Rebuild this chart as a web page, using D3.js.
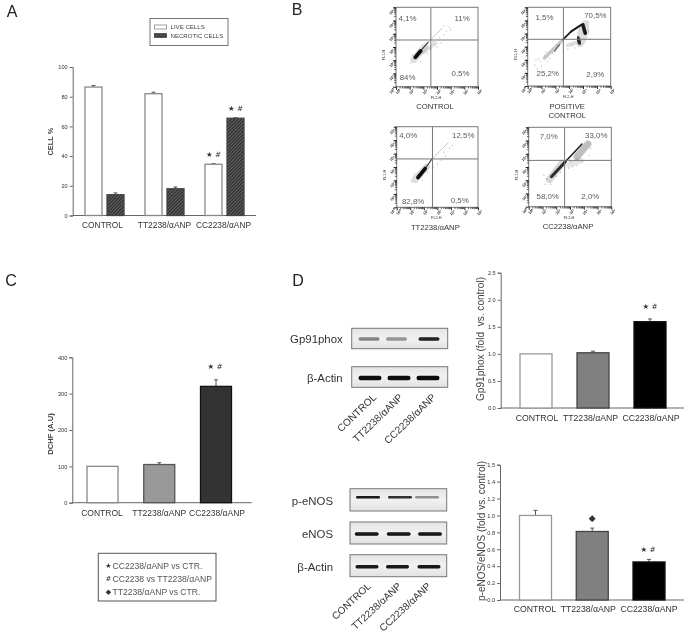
<!DOCTYPE html>
<html><head><meta charset="utf-8">
<style>
html,body{margin:0;padding:0;background:#fff}
svg{display:block;filter:blur(0.35px)}
text{font-family:"Liberation Sans",Arial,sans-serif}
</style>
<script src="https://cdn.jsdelivr.net/npm/d3@7/dist/d3.min.js"></script>
</head><body><script>
// ---------- data ----------
const categories = ["CONTROL", "TT2238/αANP", "CC2238/αANP"];
const seriesA = ["LIVE CELLS", "NECROTIC CELLS"];
const liveCells = [86.5, 82, 34.5];
const liveErr = [1, 1, 0.4];
const necroticCells = [14, 18, 65.5];
const necroticErr = [1.2, 1.2, 0.3];
const dchf = [100, 105, 320];
const dchfErr = [0, 5, 18];
const gp91 = [1.0, 1.02, 1.595];
const gp91Err = [0, 0.03, 0.05];
const peNos = [1.0, 0.81, 0.45];
const peNosErr = [0.06, 0.04, 0.03];
const ticksA = [0, 20, 40, 60, 80, 100];
const ticksC = [0, 100, 200, 300, 400];
const ticksGp = [0, 0.5, 1, 1.5, 2, 2.5];
const ticksPe = [0, 0.2, 0.4, 0.6, 0.8, 1, 1.2, 1.4, 1.6];
const tickLabelsPe = ["0.0", "0.2", "0.4", "0.6", "0.8", "1.0", "1.2", "1.4", "1.5"];
const legendNotes = [["★", "CC2238/αANP vs CTR."], ["#", "CC2238 vs TT2238/αANP"], ["◆", "TT2238/αANP vs CTR."]];
// western blot band intensity per lane
const blotGp91 = [0.45, 0.38, 0.9];
const blotActinTop = [1, 1, 1];
const blotPeNos = [0.95, 0.85, 0.4];
const blotENos = [0.95, 0.95, 0.95];
const blotActinBottom = [0.95, 0.95, 0.95];
// flow cytometry: quadrant percentages and gates (log decades)
const flowDecades = [0, 1, 2, 3, 4, 5, 6];
const quadControl = [["4,1%", .85, 5.2], ["11%", 4.84, 5.2], ["84%", .85, .73], ["0,5%", 4.72, 1.0]];
const quadPositive = [["1,5%", 1.21, 5.24], ["70,5%", 4.89, 5.36], ["25,2%", 1.45, .96], ["2,9%", 4.89, .86]];
const quadTT = [["4,0%", .85, 5.33], ["12,5%", 4.91, 5.38], ["82,8%", 1.21, .45], ["0,5%", 4.65, .5]];
const quadCC = [["7,0%", 1.45, 5.35], ["33,0%", 4.91, 5.38], ["58,0%", 1.38, .8], ["2,0%", 4.48, .8]];
const gateControl = [2.55, 3.53], gatePositive = [2.58, 3.56], gateTT = [2.64, 3.6], gateCC = [2.61, 3.5];
// density clouds as strokes: x1,y1,x2,y2 (decades), weight, darkness
const cloudControl = [[1.3,2.05,2.1,3,7,.13],[2,2.6,2.9,3.3,4,.1],[2.35,3.35,3.35,4.4,.7,.35],[1.75,2.65,2.35,3.35,1.1,.85],[1.42,2.22,1.8,2.7,3.8,1]];
const cloudPositive = [[1.21,2.14,2.42,3.4,3.5,.22],[1.94,2.65,2.3,3.15,1.4,.55],[2.9,3.1,3.6,3.35,4,.12],[3.75,3.4,4.2,4.6,11,.14],[2.54,3.53,3.15,4.16,1.7,.95],[3.15,4.16,3.87,4.66,2.1,.95],[3.99,4.66,4.16,4.03,3.6,.95],[3.63,3.66,3.75,3.28,3.6,.85]];
const cloudTT = [[1.35,2.05,2.2,3,7,.13],[2.6,3.6,3.8,4.8,.7,.3],[2.06,2.82,2.6,3.6,1.1,.85],[1.57,2.22,2.1,2.88,3.8,1]];
const cloudCC = [[1.5,2.05,2.42,3.28,7,.16],[2.9,3.15,3.75,3.5,6,.1],[3.5,3.78,4.3,4.74,7,.25],[1.65,2.27,2.66,3.4,3,.85],[2.66,3.4,3.87,4.74,1.5,.95]];
// sparse events seen around each cloud (decades)
const speckControl = [[2.5,2.9],[2.8,3.2],[3,3],[2.3,2.5],[2.7,3.4],[3.3,3.3],[3.5,3.9],[3.7,4.2],[3.9,4.5],[3.5,4.6],[4,4.3],[3.2,3.7],[1.1,1.8],[1.2,2.4],[1.8,1.9]];
const speckPositive = [[.5,1.6],[.7,1.3],[.9,1.9],[1,1.5],[1.2,2.3],[.8,2.1],[1.4,1.9],[1.6,2.1],[1.8,2.5],[1.3,2.6],[.6,2],[2.9,2.8],[3.2,3.1],[3.4,2.9],[4.4,4.2],[4.5,3.6],[3.4,4.3]];
const speckTT = [[2.7,3],[3,3.2],[3.3,3.5],[3.6,3.8],[3.9,4.4],[4.1,4.6],[3.5,4.1],[1.1,1.9],[1.3,2.5],[1.9,2],[2.3,2.6]];
const speckCC = [[1.2,1.7],[1.3,2.1],[1.6,1.7],[1.1,2.4],[2,2.3],[2.3,2.6],[2.9,2.9],[3.2,3],[3.5,3.1],[3,3.4],[4.5,4.4],[4.4,3.9],[3.9,3.4]];

// ---------- helpers ----------
const svg = d3.select("body").append("svg").attr("width", 691).attr("height", 638);
const defs = svg.append("defs");
const soft = (id, s) => defs.append("filter").attr("id", id).attr("x", "-40%").attr("y", "-150%").attr("width", "180%").attr("height", "400%")
  .append("feGaussianBlur").attr("stdDeviation", s);
soft("soft", 0.6); soft("band", 0.75);
const hatch = defs.append("pattern").attr("id", "hatch").attr("width", 2.4).attr("height", 2.4)
  .attr("patternUnits", "userSpaceOnUse").attr("patternTransform", "rotate(-45)");
hatch.append("rect").attr("width", 2.4).attr("height", 2.4).attr("fill", "#666");
hatch.append("rect").attr("width", 2.4).attr("height", 1.3).attr("fill", "#2c2c2c");
const blotGrad = defs.append("linearGradient").attr("id", "blotbg").attr("x1", 0).attr("x2", 0).attr("y1", 0).attr("y2", 1);
blotGrad.append("stop").attr("offset", 0).attr("stop-color", "#e4e4e4");
blotGrad.append("stop").attr("offset", .5).attr("stop-color", "#f1f1f1");
blotGrad.append("stop").attr("offset", 1).attr("stop-color", "#e2e2e2");

function txt(g, x, y, s, size, o = {}) {
  return g.append("text").attr("x", x).attr("y", y).attr("dy", "0.35em").text(s)
    .attr("font-size", size).attr("fill", o.fill || "#333")
    .attr("text-anchor", o.anchor || "middle").attr("font-weight", o.weight || null);
}
function panelLetter(x, y, s) { txt(svg, x, y, s, 16, { fill: "#222" }); }

function barAxes(cfg) {
  const g = svg.append("g");
  const y = d3.scaleLinear().domain(cfg.domain).range([cfg.y0, cfg.y1]);
  const x = d3.scalePoint().domain(categories).range(cfg.xr);
  const ax = d3.axisLeft(y).tickValues(cfg.ticks).tickSize(3).tickPadding(2)
    .tickFormat(cfg.format);
  const ga = g.append("g").attr("transform", `translate(${cfg.xa},0)`).call(ax);
  ga.selectAll("path,line").attr("stroke", "#666").attr("stroke-width", 1);
  ga.selectAll("text").attr("font-size", cfg.tickSize || 5.6).attr("fill", "#333").attr("font-family", null)
    .style("font-family", '"Liberation Sans"');
  g.append("line").attr("x1", cfg.xa).attr("x2", cfg.xEnd).attr("y1", cfg.y0).attr("y2", cfg.y0)
    .attr("stroke", "#666").attr("stroke-width", 1);
  categories.forEach((c, i) => txt(g, x(c) + (cfg.labelDx ? cfg.labelDx[i] : 0), cfg.labelY, c, cfg.labelSize, { fill: "#333" }));
  const t = txt(g, 0, 0, cfg.title, cfg.titleSize, { fill: cfg.titleFill || "#444", weight: cfg.titleWeight });
  t.attr("transform", `translate(${cfg.titleX},${cfg.titleY}) rotate(-90)`).style("white-space", "pre");
  return { g, x, y };
}
function drawBars(g, x, y, vals, errs, styles, width, dx = 0) {
  const base = y.domain()[0];
  const sel = g.append("g");
  sel.selectAll("line.err").data(vals.map((v, i) => i)).join("line")
    .attr("x1", i => x(categories[i]) + dx).attr("x2", i => x(categories[i]) + dx)
    .attr("y1", i => y(vals[i])).attr("y2", i => y(vals[i] + errs[i]))
    .attr("stroke", "#555").attr("stroke-width", 1);
  sel.selectAll("line.cap").data(vals.map((v, i) => i).filter(i => errs[i] > 0)).join("line").attr("class", "cap")
    .attr("x1", i => x(categories[i]) + dx - 2).attr("x2", i => x(categories[i]) + dx + 2)
    .attr("y1", i => y(vals[i] + errs[i])).attr("y2", i => y(vals[i] + errs[i]))
    .attr("stroke", "#555").attr("stroke-width", 1);
  sel.selectAll("rect").data(vals).join("rect")
    .attr("x", (d, i) => x(categories[i]) + dx - width / 2).attr("width", width)
    .attr("y", d => y(d)).attr("height", d => y(base) - y(d))
    .attr("fill", (d, i) => styles[i].fill).attr("stroke", (d, i) => styles[i].stroke).attr("stroke-width", 1.3);
}
function mark(g, x, y, s, size = 7.4) { txt(g, x, y, s, size, { fill: "#333" }).style("font-family", '"DejaVu Sans"'); }

// ---------- panel A ----------
panelLetter(12, 11, "A");
{
  const { g, x, y } = barAxes({ domain: [0, 100], y0: 215.5, y1: 67, xr: [104.5, 224.5], xa: 72.7, xEnd: 256,
    ticks: ticksA, format: d3.format("d"), labelY: 225, labelSize: 8.4, labelDx: [-2, 0, -1],
    title: "CELL %", titleSize: 7.4, titleX: 50, titleY: 141.6, titleWeight: "bold" });
  const sub = d3.scaleOrdinal().domain(seriesA).range([-11, 11]);
  drawBars(g, x, y, liveCells, liveErr, categories.map(() => ({ fill: "#fff", stroke: "#888" })), 17, sub(seriesA[0]));
  drawBars(g, x, y, necroticCells, necroticErr, categories.map(() => ({ fill: "url(#hatch)", stroke: "#444" })), 17, sub(seriesA[1]));
  const c = categories[2];
  mark(g, x(c) + sub(seriesA[0]), y(liveCells[2] + liveErr[2]) - 9, "★ #");
  mark(g, x(c) + sub(seriesA[1]), y(necroticCells[2] + necroticErr[2]) - 9, "★ #");
  // legend
  const lg = svg.append("g");
  lg.append("rect").attr("x", 150).attr("y", 18.5).attr("width", 78).attr("height", 27).attr("fill", "#fff").attr("stroke", "#777");
  seriesA.forEach((s, i) => {
    lg.append("rect").attr("x", 154.5).attr("y", 25 + i * 8.5).attr("width", 12).attr("height", 4)
      .attr("fill", i ? "url(#hatch)" : "#fff").attr("stroke", i ? "#444" : "#888").attr("stroke-width", .8);
    txt(lg, 170.5, 27 + i * 8.7, s, 6.1, { anchor: "start", fill: "#444" });
  });
}

// ---------- panel B: flow cytometry ----------
panelLetter(297, 9, "B");
function flowPlot(box, gate, quad, cloud, speck, names) {
  const [xl, xr, yt, yb] = box;
  const g = svg.append("g");
  const x = d3.scaleLinear().domain([0, 6]).range([xl, xr]);
  const y = d3.scaleLinear().domain([0, 6]).range([yb, yt]);
  g.append("g").selectAll("circle").data(speck).join("circle")
    .attr("cx", d => x(d[0])).attr("cy", d => y(d[1])).attr("r", .7).attr("fill", "#666").attr("fill-opacity", .4);
  g.append("g").selectAll("line").data(cloud).join("line")
    .attr("x1", d => x(d[0])).attr("y1", d => y(d[1])).attr("x2", d => x(d[2])).attr("y2", d => y(d[3]))
    .attr("stroke", "#111").attr("stroke-width", d => d[4]).attr("stroke-opacity", d => d[5])
    .attr("stroke-linecap", "round").attr("filter", "url(#soft)");
  g.append("rect").attr("x", xl).attr("y", yt).attr("width", xr - xl).attr("height", yb - yt)
    .attr("fill", "none").attr("stroke", "#777").attr("stroke-width", 1);
  g.append("line").attr("x1", x(gate[0])).attr("x2", x(gate[0])).attr("y1", yt).attr("y2", yb).attr("stroke", "#777");
  g.append("line").attr("x1", xl).attr("x2", xr).attr("y1", y(gate[1])).attr("y2", y(gate[1])).attr("stroke", "#777");
  const minor = d3.range(0, 6).flatMap(d => d3.range(2, 10).map(m => d + Math.log10(m)));
  const fmt = d => "10" + "⁰¹²³⁴⁵⁶"[d];
  const ax = d3.axisBottom(x).tickValues(flowDecades).tickSize(3).tickPadding(1).tickFormat(fmt);
  const ay = d3.axisLeft(y).tickValues(flowDecades).tickSize(3).tickPadding(1).tickFormat(fmt);
  const gx = g.append("g").attr("transform", `translate(0,${yb})`).call(ax);
  const gy = g.append("g").attr("transform", `translate(${xl},0)`).call(ay);
  [gx, gy].forEach(a => {
    a.select("path").remove();
    a.selectAll("line").attr("stroke", "#222").attr("stroke-width", 1);
    a.selectAll("text").attr("font-size", 3.8).attr("font-weight", "bold").attr("fill", "#222").style("font-family", '"Liberation Sans"');
  });
  gx.selectAll("text").attr("transform", "rotate(-45)").attr("text-anchor", "end").attr("dy", "0.5em");
  gy.selectAll("text").attr("transform", "rotate(-45)").attr("dx", "1px");
  g.selectAll("line.mx").data(minor).join("line").attr("class", "mx")
    .attr("x1", d => x(d)).attr("x2", d => x(d)).attr("y1", yb).attr("y2", yb + 1.8).attr("stroke", "#222").attr("stroke-width", .7);
  g.selectAll("line.my").data(minor).join("line").attr("class", "my")
    .attr("y1", d => y(d)).attr("y2", d => y(d)).attr("x1", xl).attr("x2", xl - 1.8).attr("stroke", "#222").attr("stroke-width", .7);
  txt(g, (xl + xr) / 2 - 1, yb + 10.5, "FL2-H", 3.8, { fill: "#333" });
  txt(g, 0, 0, "FL1-H", 3.8, { fill: "#333" }).attr("transform", `translate(${xl - 12},${(yt + yb) / 2 + 8}) rotate(-90)`);
  quad.forEach(q => txt(g, x(q[1]), y(q[2]), q[0], 7.9, { fill: "#5a5a5a" }));
  names.forEach((n, i) => txt(g, (xl + xr) / 2 - 2, yb + 20 + i * 9.4, n, 7.7, { fill: "#333" }));
}
flowPlot([396, 478, 7.3, 86.7], gateControl, quadControl, cloudControl, speckControl, ["CONTROL"]);
flowPlot([527.7, 610.7, 7.3, 86], gatePositive, quadPositive, cloudPositive, speckPositive, ["POSITIVE", "CONTROL"]);
flowPlot([396.7, 478, 126.7, 207.3], gateTT, quadTT, cloudTT, speckTT, [categories[1]]);
flowPlot([528.7, 611.3, 127.3, 206.7], gateCC, quadCC, cloudCC, speckCC, [categories[2]]);

// ---------- panel C ----------
panelLetter(11, 280, "C");
{
  const { g, x, y } = barAxes({ domain: [0, 400], y0: 502.7, y1: 357.3, xr: [102.5, 216], xa: 72.3, xEnd: 251.7,
    ticks: ticksC, format: d3.format("d"), labelY: 513, labelSize: 8.5, labelDx: [-.5, 0, 1],
    title: "DCHF (A.U)", titleSize: 7.6, titleX: 50, titleY: 434, titleWeight: "bold" });
  drawBars(g, x, y, dchf, dchfErr, [{ fill: "#fff", stroke: "#888" }, { fill: "#999", stroke: "#555" }, { fill: "#333", stroke: "#111" }], 31);
  mark(g, x(categories[2]) - 1, y(dchf[2] + dchfErr[2]) - 13, "★ #");
  const lg = svg.append("g");
  lg.append("rect").attr("x", 98.3).attr("y", 553.3).attr("width", 117.7).attr("height", 47.7).attr("fill", "#fff").attr("stroke", "#555").attr("stroke-width", 1);
  legendNotes.forEach((n, i) => {
    const yy = 565.7 + i * 13;
    mark(lg, 108.5, yy, n[0], 7);
    txt(lg, 112.5, yy, n[1], 8.6, { anchor: "start", fill: "#555" });
  });
}

// ---------- panel D: blots ----------
panelLetter(298, 280, "D");
function blot(box, laneCentres, laneWidth, bandY, thick, vals, label, labelEnd) {
  const [xl, xr, yt, yb] = box;
  const g = svg.append("g");
  const lane = d3.scaleOrdinal().domain(categories).range(laneCentres);
  g.append("rect").attr("x", xl).attr("y", yt).attr("width", xr - xl).attr("height", yb - yt)
    .attr("fill", "url(#blotbg)").attr("stroke", "#777").attr("stroke-width", 1);
  g.selectAll("rect.band").data(vals).join("rect").attr("class", "band")
    .attr("x", (d, i) => lane(categories[i]) - laneWidth / 2).attr("y", bandY - thick / 2)
    .attr("width", laneWidth).attr("height", thick).attr("rx", thick / 2)
    .attr("fill", "#0a0a0a").attr("fill-opacity", d => d).attr("filter", "url(#band)");
  txt(g, labelEnd, (yt + yb) / 2 + 1, label, 11.4, { anchor: "end", fill: "#333" });
}
function rotLabels(ends, y, size, angle) {
  categories.forEach((c, i) => {
    svg.append("text").text(c).attr("text-anchor", "end").attr("font-size", size).attr("fill", "#333")
      .attr("transform", `translate(${ends[i]},${y}) rotate(${angle})`);
  });
}
blot([351.7, 447.7, 328.3, 348.7], [369, 396.5, 429], 21, 339, 3.4, blotGp91, "Gp91phox", 342.7);
blot([351.7, 447.7, 366.7, 387.3], [370, 399, 428], 23, 378, 4.6, blotActinTop, "β-Actin", 342.7);
rotLabels([377, 403.5, 436.5], 398, 10.2, -44);
blot([350, 446.7, 488.7, 511], [368, 400, 427], 24, 497.3, 2.6, blotPeNos, "p-eNOS", 333);
blot([350, 446.7, 522, 544], [366.7, 398.7, 430], 24, 534, 3.6, blotENos, "eNOS", 333);
blot([350, 446.7, 554.7, 576.7], [367, 397.5, 429], 23, 566.7, 3.4, blotActinBottom, "β-Actin", 333);
rotLabels([371.5, 402, 431.5], 587, 10, -43);

// ---------- panel D: bars ----------
const dStyles = [{ fill: "#fff", stroke: "#999" }, { fill: "#808080", stroke: "#444" }, { fill: "#000", stroke: "#111" }];
{
  const { g, x, y } = barAxes({ domain: [0, 2.5], y0: 408, y1: 272.7, xr: [536, 650], xa: 500.7, xEnd: 684,
    ticks: ticksGp, format: d3.format(".1f"), labelY: 418, labelSize: 8.7, labelDx: [1, -2.5, 1],
    title: "Gp91phox (fold  vs. control)", titleSize: 10.1, titleFill: "#444", titleX: 480.7, titleY: 339 });
  drawBars(g, x, y, gp91, gp91Err, dStyles, 32);
  mark(g, x(categories[2]), y(gp91[2] + gp91Err[2]) - 13, "★ #");
}
{
  const { g, x, y } = barAxes({ domain: [0, 1.6], y0: 600, y1: 464.7, xr: [535.5, 649], xa: 500, xEnd: 684,
    ticks: ticksPe, format: (d, i) => tickLabelsPe[i], labelY: 609.3, labelSize: 8.7, labelDx: [-.5, -4, 0],
    title: "p-eNOS/eNOS (fold vs. control)", titleSize: 10, titleFill: "#444", titleX: 481.7, titleY: 531 });
  drawBars(g, x, y, peNos, peNosErr, dStyles, 32);
  mark(g, x(categories[1]), y(peNos[1] + peNosErr[1]) - 10, "◆", 9);
  mark(g, x(categories[2]) - 1, y(peNos[2] + peNosErr[2]) - 10.5, "★ #");
}
</script></body></html>
